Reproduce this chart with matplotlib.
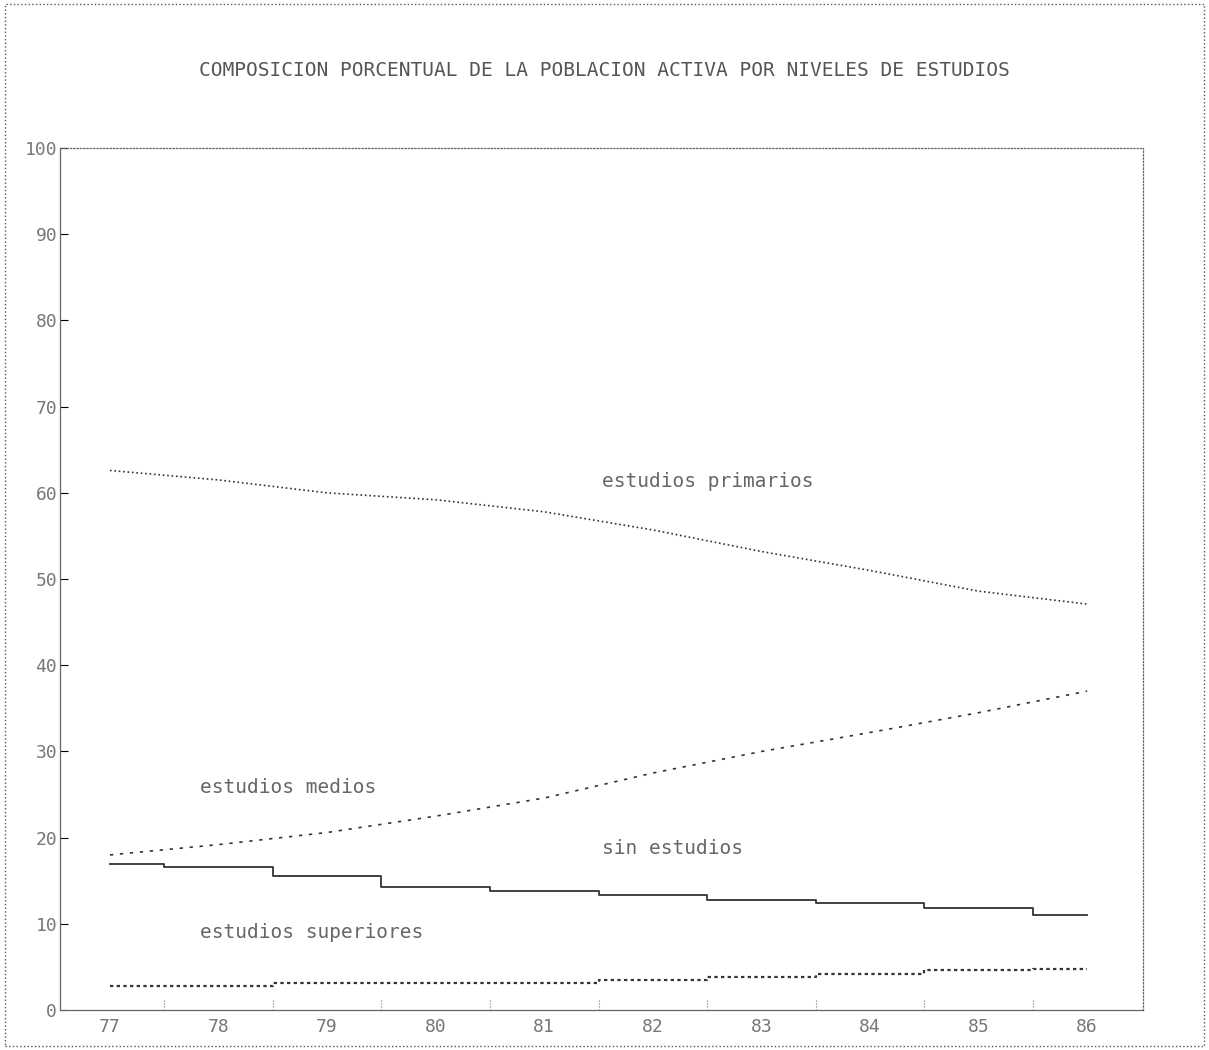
import matplotlib
matplotlib.use("Agg")
import matplotlib.pyplot as plt
from matplotlib.patches import Rectangle

years = [77, 78, 79, 80, 81, 82, 83, 84, 85, 86]
year_labels = ["77", "78", "79", "80", "81", "82", "83", "84", "85", "86"]
primarios = [62.6, 61.5, 60.0, 59.2, 57.8, 55.7, 53.2, 51.0, 48.6, 47.1]
medios = [18.0, 19.2, 20.6, 22.5, 24.6, 27.5, 30.0, 32.2, 34.5, 37.0]
sin_estudios = [17.0, 16.6, 15.6, 14.3, 13.8, 13.3, 12.8, 12.4, 11.8, 11.0]
superiores = [2.8, 2.8, 3.2, 3.2, 3.2, 3.5, 3.8, 4.2, 4.6, 4.8]

plt.rcParams['font.family'] = ['DejaVu Sans Mono']
fig = plt.figure(figsize=(12.09, 10.5), dpi=100)
fig.patches.append(Rectangle((0.004, 0.004), 0.992, 0.992, transform=fig.transFigure,
                             fill=False, ls=':', lw=1, color='#555555'))
ax = fig.add_axes([0.0496, 0.038, 0.8954, 0.821])
c = '#333333'
ax.plot(years, primarios, ls=':', color=c, lw=1.2)
ax.plot(years, medios, ls=(0, (2, 4)), color=c, lw=1.2)
ax.plot(years, sin_estudios, ls='-', color=c, lw=1.3, drawstyle='steps-mid')
ax.plot(years, superiores, ls=(0, (1.5, 1.5)), color=c, lw=1.6, drawstyle='steps-mid')
ax.set_xlim(76.54, 86.51)
ax.set_ylim(0, 100)
ax.set_yticks(range(0, 101, 10))
ax.set_yticklabels([str(v) for v in range(0, 101, 10)], fontsize=13, color='#777777')
ax.set_xticks(years)
ax.set_xticklabels(year_labels, fontsize=13, color='#777777')
ax.tick_params(axis='x', length=0, pad=6)
ax.tick_params(axis='y', direction='in', length=6, pad=2)
for x in [77.5 + i for i in range(9)]:
    ax.plot([x, x], [0, 1.2], color='#777777', lw=0.8, ls=':')
for s in ax.spines.values():
    s.set_color('#666666'); s.set_linewidth(0.9)
ax.spines['right'].set_linestyle(':')
ax.spines['top'].set_linestyle(':')
tc = '#666666'
ax.text(81.53, 60.7, 'estudios primarios', fontsize=14, color=tc)
ax.text(77.83, 25.2, 'estudios medios', fontsize=14, color=tc)
ax.text(81.53, 18.1, 'sin estudios', fontsize=14, color=tc)
ax.text(77.83, 8.4, 'estudios superiores', fontsize=14, color=tc)
fig.text(0.5, 0.928, 'COMPOSICION PORCENTUAL DE LA POBLACION ACTIVA POR NIVELES DE ESTUDIOS',
         ha='center', fontsize=14, color='#555555')
fig.savefig('out.png', dpi=100)
